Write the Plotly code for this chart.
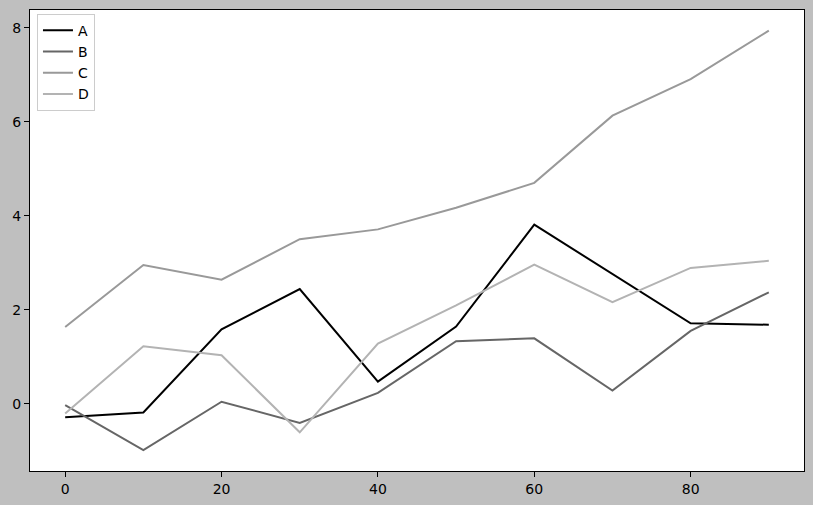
import plotly.graph_objects as go

x_values = [0, 10, 20, 30, 40, 50, 60, 70, 80, 90]
series_names = ["A", "B", "C", "D"]
series_A = [-0.29, -0.19, 1.58, 2.44, 0.47, 1.64, 3.81, 2.76, 1.71, 1.68]
series_B = [-0.03, -0.99, 0.04, -0.41, 0.23, 1.33, 1.39, 0.28, 1.55, 2.37]
series_C = [1.63, 2.95, 2.64, 3.50, 3.71, 4.17, 4.70, 6.13, 6.91, 7.94]
series_D = [-0.21, 1.22, 1.03, -0.61, 1.28, 2.09, 2.96, 2.16, 2.89, 3.04]
y_ticks = [0, 2, 4, 6, 8]
x_ticks = [0, 20, 40, 60, 80]

colors = ["#000000", "#666666", "#999999", "#b3b3b3"]
all_series = [series_A, series_B, series_C, series_D]

fig = go.Figure()
for name, ys, c in zip(series_names, all_series, colors):
    fig.add_trace(go.Scatter(x=x_values, y=ys, mode="lines", name=name,
                             line=dict(color=c, width=2)))

axis_common = dict(showline=True, linecolor="black", linewidth=1, mirror=True,
                   ticks="outside", ticklen=5, tickwidth=1, tickcolor="black",
                   showgrid=False, zeroline=False,
                   tickfont=dict(family="DejaVu Sans", size=14, color="black"))

fig.update_xaxes(range=[-4.5, 94.5], tickvals=x_ticks, **axis_common)
fig.update_yaxes(range=[-1.434, 8.38], tickvals=y_ticks, **axis_common)

fig.update_layout(
    width=813, height=505,
    margin=dict(l=30, r=9, t=10, b=34),
    paper_bgcolor="#bfbfbf", plot_bgcolor="white",
    font=dict(family="DejaVu Sans", size=14, color="black"),
    legend=dict(x=0.009, y=0.992, xanchor="left", yanchor="top",
                bgcolor="white", bordercolor="#cccccc", borderwidth=1,
                font=dict(size=14), tracegroupgap=0),
    showlegend=True,
)

fig.write_html("out.html", config={"displayModeBar": False},
               post_script="document.body.style.margin='0';document.body.style.background='#bfbfbf';")
